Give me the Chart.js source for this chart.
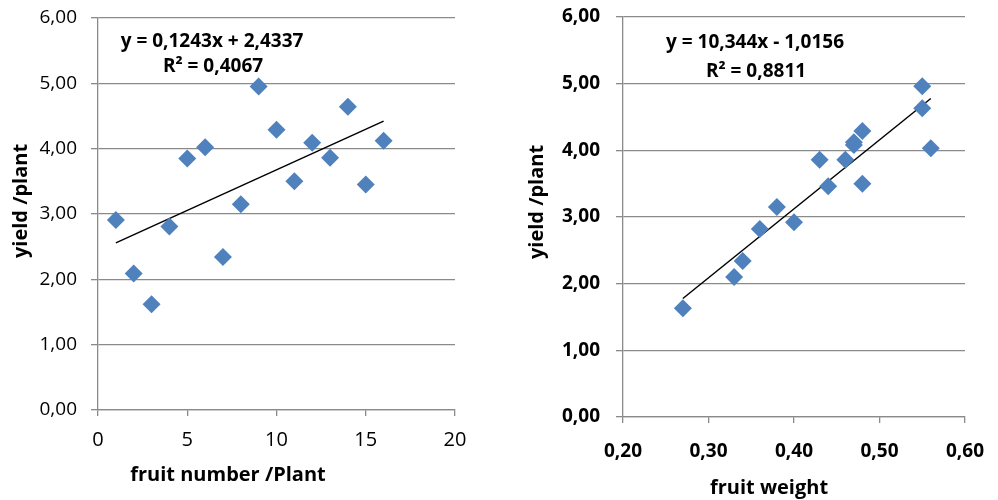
<!DOCTYPE html>
<html>
<head>
<meta charset="utf-8">
<script src="https://cdn.jsdelivr.net/npm/chart.js@4/dist/chart.umd.min.js"></script>
<style>
  body { margin: 0; background: #fff; }
  #left { position: absolute; left: 0; top: 0; }
  #right { position: absolute; left: 500px; top: 0; }
</style>
</head>
<body>
<canvas id="left" width="490" height="500"></canvas>
<canvas id="right" width="498" height="500"></canvas>
<script>
"use strict"

// Dados
const fruitNumber = [1, 2, 3, 4, 5, 6, 7, 8, 9, 10, 11, 12, 13, 14, 15, 16];
const yieldByNumber = [2.91, 2.09, 1.62, 2.81, 3.85, 4.02, 2.34, 3.15, 4.95, 4.29, 3.50, 4.09, 3.86, 4.64, 3.45, 4.12];

const fruitWeight = [0.27, 0.33, 0.34, 0.36, 0.38, 0.40, 0.43, 0.44, 0.46, 0.47, 0.47, 0.48, 0.48, 0.55, 0.55, 0.56];
const yieldByWeight = [1.63, 2.10, 2.34, 2.82, 3.15, 2.92, 3.86, 3.46, 3.86, 4.08, 4.12, 4.29, 3.50, 4.96, 4.63, 4.03];

// Linhas de tendência (equações mostradas no gráfico)
const trendNumber = { slope: 0.1243, intercept: 2.4337, label: "y = 0,1243x + 2,4337", r2: "R² = 0,4067" };
const trendWeight = { slope: 10.344, intercept: -1.0156, label: "y = 10,344x - 1,0156", r2: "R² = 0,8811" };

const yTicks = [0, 1, 2, 3, 4, 5, 6];

const FONT = "'Open Sans', sans-serif";
const GRID = "#8a8a8a";
const BLUE = "#4f81bd";

// Formato com vírgula decimal
const fmt = v => Number(v).toFixed(2).replace(".", ",");

function points(xs, ys) {
  return xs.map((x, i) => ({ x: x, y: ys[i] }));
}

function trendPoints(xs, t) {
  const x0 = Math.min(...xs), x1 = Math.max(...xs);
  return [{ x: x0, y: t.slope * x0 + t.intercept }, { x: x1, y: t.slope * x1 + t.intercept }];
}

// Plugin simples para escrever títulos e equações
const textPlugin = {
  id: "texts",
  afterDraw(chart, args, opts) {
    const ctx = chart.ctx;
    opts.items.forEach(it => {
      ctx.save();
      ctx.fillStyle = "#000";
      ctx.font = it.font;
      ctx.textAlign = "center";
      ctx.textBaseline = it.rotate ? "middle" : "alphabetic";
      ctx.translate(it.x, it.y);
      if (it.rotate) ctx.rotate(-Math.PI / 2);
      ctx.fillText(it.text, 0, 0);
      ctx.restore();
    });
  }
};

function makeChart(id, cfg) {
  const canvas = document.getElementById(id);
  const W = canvas.width, H = canvas.height;
  return new Chart(canvas, {
    type: "scatter",
    data: {
      datasets: [{
        data: points(cfg.xs, cfg.ys),
        pointStyle: "rectRot",
        pointRadius: 9,
        backgroundColor: BLUE,
        borderColor: BLUE,
        borderWidth: 0,
        order: 1
      }, {
        type: "line",
        data: trendPoints(cfg.xs, cfg.trend),
        borderColor: "#000",
        borderWidth: 1.5,
        pointRadius: 0,
        fill: false,
        order: 2
      }]
    },
    options: {
      responsive: false,
      animation: false,
      layout: { padding: { left: 0, top: cfg.area.top, right: W - cfg.area.right, bottom: 0 } },
      plugins: {
        legend: { display: false },
        tooltip: { enabled: false },
        texts: { items: cfg.texts }
      },
      scales: {
        x: {
          type: "linear",
          min: cfg.xMin, max: cfg.xMax,
          afterFit: s => { s.height = H - cfg.area.bottom; s.paddingLeft = 0; s.paddingRight = 0; },
          border: { color: GRID, width: 1.3 },
          grid: { drawOnChartArea: false, drawTicks: true, tickLength: 6, color: GRID, lineWidth: 1.3 },
          ticks: {
            stepSize: cfg.xStep, padding: cfg.xPad, color: "#000",
            font: { family: FONT, size: cfg.xTickSize, weight: cfg.tickWeight },
            callback: cfg.xFormat
          }
        },
        y: {
          min: yTicks[0], max: yTicks[yTicks.length - 1],
          afterFit: s => { s.width = cfg.area.left; s.paddingTop = 0; s.paddingBottom = 0; },
          afterBuildTicks: s => { s.ticks = yTicks.map(v => ({ value: v })); },
          border: { color: GRID, width: 1.3 },
          grid: { color: GRID, lineWidth: 1.3, tickLength: 7 },
          ticks: {
            padding: cfg.yPad, color: "#000",
            font: { family: FONT, size: cfg.yTickSize, weight: cfg.tickWeight },
            callback: fmt
          }
        }
      }
    },
    plugins: [textPlugin]
  });
}

// Gráfico da esquerda: número de frutos
makeChart("left", {
  xs: fruitNumber, ys: yieldByNumber, trend: trendNumber,
  area: { left: 98, right: 455, top: 18, bottom: 410 },
  xMin: 0, xMax: 20, xStep: 5,
  xFormat: v => v,
  tickWeight: "normal", xTickSize: 20, yTickSize: 19, yPad: 14, xPad: 12,
  texts: [
    { text: trendNumber.label, x: 212, y: 46.5, font: "bold 19px " + FONT },
    { text: trendNumber.r2, x: 213, y: 71.5, font: "bold 19px " + FONT },
    { text: "fruit number /Plant", x: 228, y: 481, font: "bold 20px " + FONT },
    { text: "yield /plant", x: 21, y: 201, font: "bold 20px " + FONT, rotate: true }
  ]
});

// Gráfico da direita: peso do fruto
makeChart("right", {
  xs: fruitWeight, ys: yieldByWeight, trend: trendWeight,
  area: { left: 123, right: 465, top: 17, bottom: 417 },
  xMin: 0.2, xMax: 0.6, xStep: 0.1,
  xFormat: fmt,
  tickWeight: "bold", xTickSize: 19, yTickSize: 19, yPad: 16, xPad: 17,
  texts: [
    { text: trendWeight.label, x: 255, y: 48, font: "bold 19px " + FONT },
    { text: trendWeight.r2, x: 256, y: 76.5, font: "bold 19px " + FONT },
    { text: "fruit weight", x: 269, y: 494, font: "bold 20px " + FONT },
    { text: "yield /plant", x: 37, y: 202, font: "bold 20px " + FONT, rotate: true }
  ]
});
</script>
</body>
</html>
